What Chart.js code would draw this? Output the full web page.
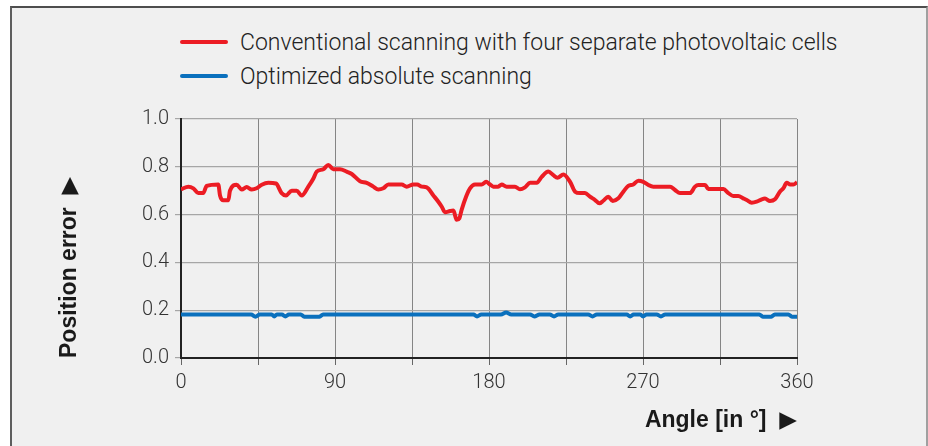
<!DOCTYPE html>
<html>
<head>
<meta charset="utf-8">
<script src="https://cdn.jsdelivr.net/npm/chart.js@4"></script>
<style>
  html, body { margin: 0; padding: 0; background: #fff; }
  #wrap { position: relative; width: 928px; height: 446px; overflow: hidden; }
  #frame {
    position: absolute; left: 10px; top: 6px; width: 914px; height: 440px;
    background: #f0f0f0;
    border-top: 2px solid #4e4e4e;
    border-left: 2px solid #5e5e5e;
    border-right: 2px solid #a0a0a0;
  }
  #chartBox { position: absolute; left: 0; top: 0; width: 928px; height: 446px; }
  #legend {
    position: absolute; left: 180px; top: 25px;
    font-family: Roboto, "Liberation Sans", sans-serif; font-weight: 300;
    font-size: 23px; color: #222;
  }
  .item { display: flex; align-items: center; height: 34px; }
  .swatch { width: 48px; height: 4px; border-radius: 2px; margin-right: 12px; }
</style>
</head>
<body>
<div id="wrap">
  <div id="frame"></div>
  <div id="legend"></div>
  <div id="chartBox"><canvas id="grafica"></canvas></div>
</div>
<script>
const serieRoja = 'Conventional scanning with four separate photovoltaic cells';
const serieAzul = 'Optimized absolute scanning';
const colorRojo = '#ec1c24';
const colorAzul = '#0a70bd';

// angulo (grados) y error
const angulosRojo = [0, 4.3, 7.2, 10.1, 13, 15, 21.8, 22.8, 24.7, 27.7, 28.6, 32.5, 35.5, 38.4, 41.3, 44.2,
  47.2, 51, 55.5, 58.8, 61.4, 64.7, 67.6, 70.5, 74.4, 77.3, 79.3, 83.2, 86.1, 89, 92.9, 96.8, 99.8,
  104.6, 108.5, 112.4, 115.3, 118.2, 121.2, 129, 131.9, 135.8, 138, 140.7, 143.6, 147.5, 150.4, 152.4,
  154.3, 157.2, 159.2, 161.1, 162.7, 164, 166.6, 168.9, 171.8, 175.7, 178.3, 180.6, 182.5, 185.4, 187.4,
  190.3, 195.2, 198.1, 201, 204, 207.9, 210.8, 214.7, 217.6, 220, 223.5, 227.4, 230.3, 233.2, 236.1,
  239, 242, 244.5, 246.8, 249.7, 252.3, 255.6, 258.5, 261.4, 264.3, 267.3, 270.2, 273.1, 276, 285.8,
  288.7, 291.6, 297.5, 300.4, 302.3, 306.3, 308.2, 317, 319.9, 322.8, 325.7, 328.6, 330.6, 333.5,
  336.4, 339.4, 341.3, 344.2, 347.1, 350, 352, 354, 356, 357.9, 360];
const valoresRojo = [0.706, 0.717, 0.71, 0.69, 0.69, 0.72, 0.726, 0.68, 0.66, 0.66, 0.70, 0.725, 0.705, 0.715, 0.705, 0.71,
  0.725, 0.733, 0.73, 0.69, 0.68, 0.70, 0.70, 0.68, 0.717, 0.75, 0.78, 0.79, 0.808, 0.79, 0.79, 0.78, 0.77,
  0.74, 0.733, 0.717, 0.705, 0.71, 0.726, 0.726, 0.717, 0.726, 0.726, 0.717, 0.714, 0.68, 0.654, 0.633,
  0.61, 0.615, 0.617, 0.578, 0.585, 0.62, 0.675, 0.71, 0.726, 0.726, 0.737, 0.726, 0.717, 0.717, 0.726,
  0.717, 0.717, 0.706, 0.714, 0.733, 0.733, 0.758, 0.78, 0.765, 0.754, 0.768, 0.737, 0.696, 0.69, 0.69,
  0.675, 0.661, 0.647, 0.658, 0.675, 0.657, 0.668, 0.696, 0.72, 0.726, 0.742, 0.737, 0.724, 0.717, 0.717,
  0.703, 0.69, 0.69, 0.717, 0.724, 0.724, 0.707, 0.707, 0.69, 0.678, 0.678, 0.668, 0.661, 0.65,
  0.654, 0.664, 0.667, 0.657, 0.664, 0.696, 0.71, 0.733, 0.726, 0.726, 0.735];

const angulosAzul = [0, 41, 43.5, 46, 53, 54.5, 56, 59, 61, 63, 70, 72, 81, 83, 171, 173, 175.5, 187, 190, 193,
  204, 206.5, 209.5, 215.5, 218, 220.5, 238, 240.5, 243, 260.5, 262.5, 264.5, 268.5, 270, 272, 278, 280.5,
  283, 338, 340, 345, 347, 355, 357, 360];
const valoresAzul = [0.182, 0.182, 0.173, 0.182, 0.182, 0.174, 0.182, 0.182, 0.174, 0.182, 0.182, 0.173, 0.173, 0.182,
  0.182, 0.174, 0.182, 0.182, 0.19, 0.182, 0.182, 0.174, 0.182, 0.182, 0.174, 0.182, 0.182, 0.174, 0.182,
  0.182, 0.174, 0.182, 0.182, 0.174, 0.182, 0.182, 0.174, 0.182, 0.182, 0.173, 0.173, 0.182, 0.182, 0.173, 0.173];

const ticksX = [0, 90, 180, 270, 360];
const tituloX = 'Angle [in °]  \u25B6';
const tituloY = 'Position error  \u25B6';

function unir(xs, ys) {
  return xs.map((x, i) => ({ x, y: ys[i] }));
}

// leyenda en HTML
const leyenda = document.getElementById('legend');
[[serieRoja, colorRojo], [serieAzul, colorAzul]].forEach(([txt, col]) => {
  leyenda.innerHTML += `<div class="item"><span class="swatch" style="background:${col}"></span><span>${txt}</span></div>`;
});

const fuente = 'Roboto, "Liberation Sans", sans-serif';
const fuenteTitulo = { family: '"Liberation Sans", "DejaVu Sans", Arial, sans-serif', size: 23, weight: 'bold' };

new Chart(document.getElementById('grafica'), {
  type: 'line',
  data: {
    datasets: [{
      label: serieRoja,
      data: unir(angulosRojo, valoresRojo),
      borderColor: colorRojo,
      borderWidth: 4,
      pointRadius: 0,
      cubicInterpolationMode: 'monotone'
    }, {
      label: serieAzul,
      data: unir(angulosAzul, valoresAzul),
      borderColor: colorAzul,
      borderWidth: 4,
      pointRadius: 0,
      cubicInterpolationMode: 'monotone'
    }]
  },
  options: {
    responsive: true,
    maintainAspectRatio: false,
    animation: false,
    devicePixelRatio: 1,
    layout: { padding: { top: 119, right: 131, bottom: 0, left: 0 } },
    plugins: { legend: { display: false }, tooltip: { enabled: false } },
    scales: {
      x: {
        type: 'linear',
        min: 0,
        max: 360,
        afterFit: s => { s.height = 88; },
        border: { color: '#222', width: 2 },
        grid: { color: '#858585', lineWidth: 1, tickLength: 7, tickColor: '#666' },
        ticks: {
          stepSize: 45,
          padding: 6,
          color: '#333',
          font: { family: fuente, size: 20, weight: 300 },
          callback: v => ticksX.includes(v) ? String(v) : ''
        },
        title: {
          display: true,
          text: tituloX,
          align: 'end',
          color: '#1a1a1a',
          font: fuenteTitulo,
          padding: { top: 0, bottom: 12 }
        }
      },
      y: {
        min: 0,
        max: 1,
        afterFit: s => { s.width = 181; },
        border: { color: '#222', width: 2 },
        grid: { color: '#a6a6a6', lineWidth: 1.2, tickLength: 6, tickColor: '#a6a6a6' },
        ticks: {
          stepSize: 0.1,
          padding: 6,
          color: '#333',
          font: { family: fuente, size: 20, weight: 300 },
          callback: v => Math.round(v * 10) % 2 === 0 ? v.toFixed(1) : ''
        },
        title: {
          display: true,
          text: tituloY,
          align: 'start',
          color: '#1a1a1a',
          font: fuenteTitulo,
          padding: { top: 56, bottom: 0 }
        }
      }
    }
  }
});
</script>
</body>
</html>
